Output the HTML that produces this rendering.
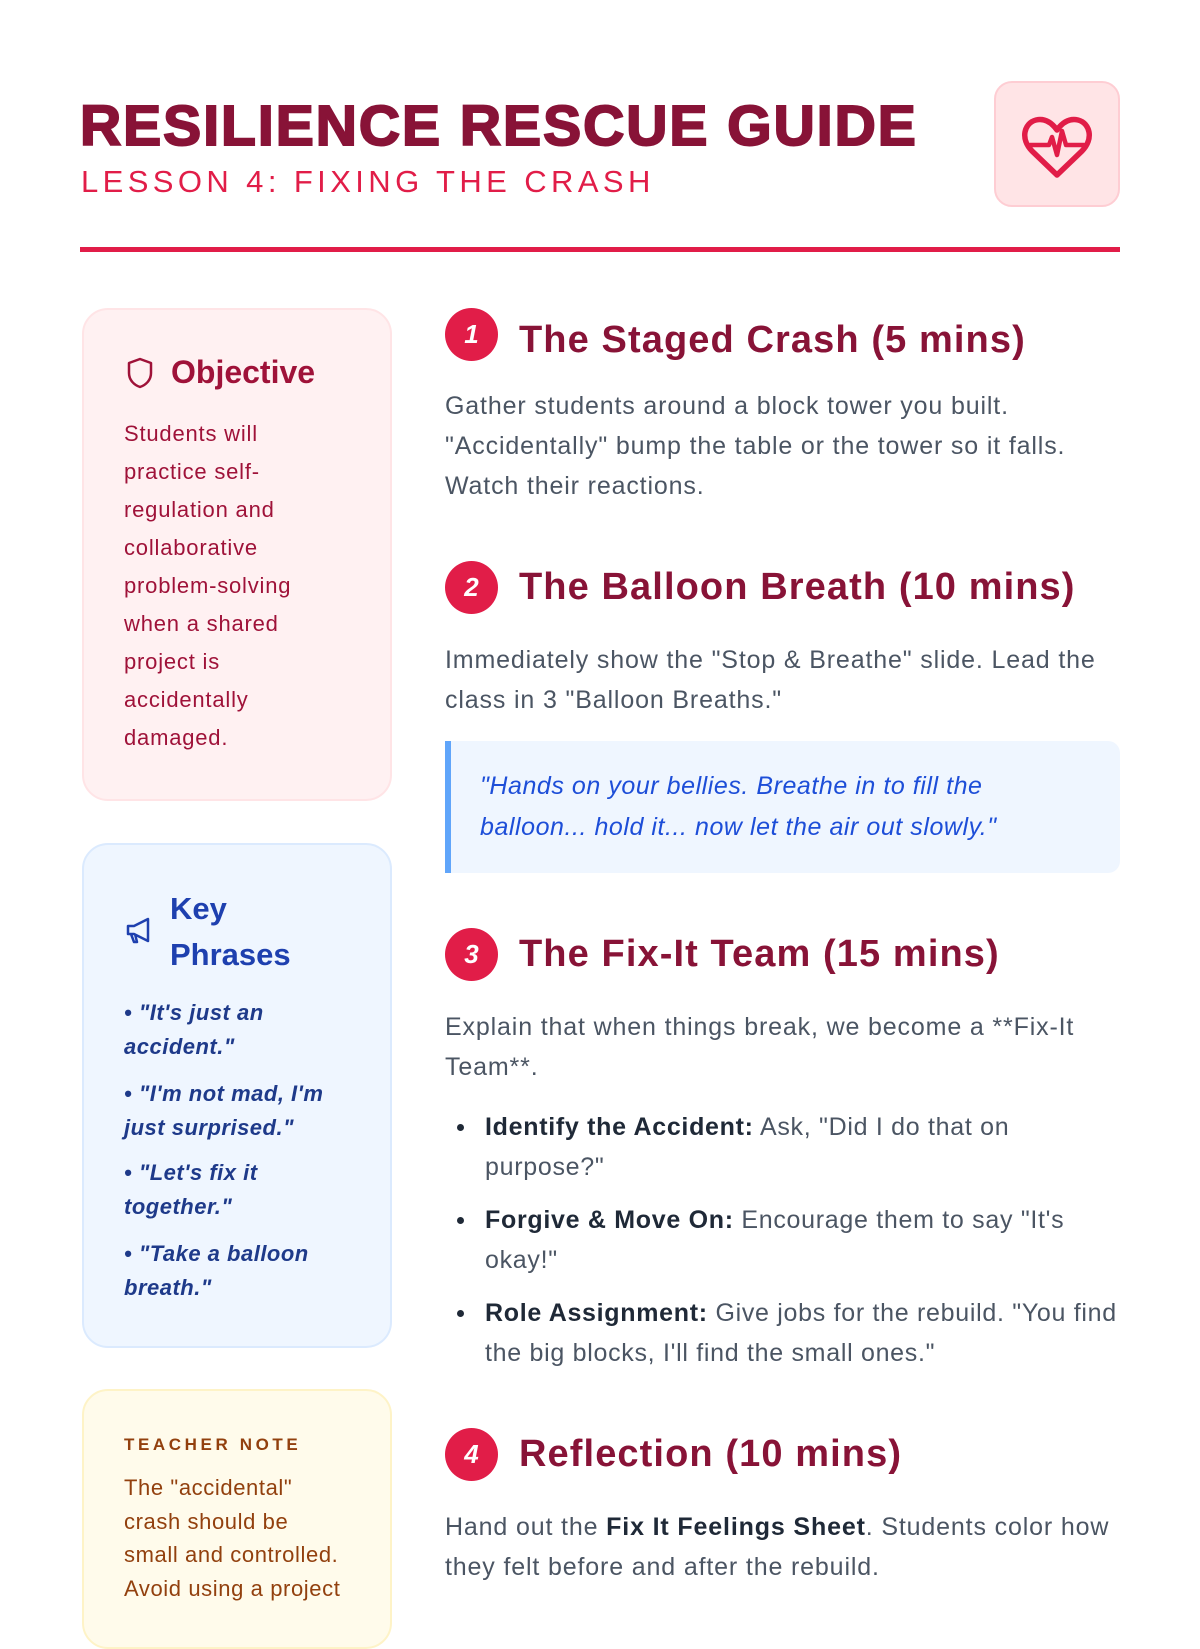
<!DOCTYPE html>
<html><head><meta charset="utf-8">
<style>
*{margin:0;padding:0;box-sizing:border-box}
body{width:1200px;height:1600px;overflow:hidden;background:#fff;font-family:"Liberation Sans",sans-serif;position:relative}
.a{position:absolute;white-space:nowrap}
.title{left:80px;top:93px;font-size:57px;font-weight:900;color:#881337;letter-spacing:2px;line-height:66px;-webkit-text-stroke:2px #881337}
.sub{left:81px;top:164px;font-size:31px;color:#e11d48;letter-spacing:4.4px;line-height:36px}
.heart{left:994px;top:81px;width:126px;height:126px;background:#ffe4e6;border:2px solid #fecdd3;border-radius:18px}
.rule{left:80px;top:247px;width:1040px;height:5px;background:#e11d48}
.card{position:absolute;left:82px;width:310px;border-radius:26px;border:2px solid}
.c1{top:308px;height:493px;background:#fff1f2;border-color:#ffe4e6}
.c2{top:843px;height:505px;background:#eff6ff;border-color:#dbeafe}
.c3{top:1389px;height:260px;background:#fffbeb;border-color:#fef3c7}
.l1{color:#9f1239;font-size:22px;letter-spacing:0.8px;line-height:38px;left:124px;top:415px}
.h{font-size:38px;font-weight:bold;color:#881337;line-height:44px;left:519px;letter-spacing:1.1px}
.num{position:absolute;left:445px;width:53px;height:53px;border-radius:50%;background:#e11d48;color:#fff;font-weight:bold;font-style:italic;font-size:26px;text-align:center;line-height:53px}
.p{font-size:25px;letter-spacing:0.85px;color:#4b5563;line-height:40px;left:445px}
.p b{color:#1f2937}
.kp{left:124px;font-size:22px;letter-spacing:0.5px;font-weight:bold;font-style:italic;color:#1e3a8a;line-height:34px}
.bl{left:485px;font-size:25px;letter-spacing:0.7px;color:#4b5563;line-height:40px}
.bl b{color:#1f2937}
.dot{position:absolute;left:457px;width:7px;height:7px;border-radius:50%;background:#1f2937}
</style></head><body>
<div class="a title">RESILIENCE RESCUE GUIDE</div>
<div class="a sub">LESSON 4: FIXING THE CRASH</div>
<div class="a heart">
<svg width="126" height="126" viewBox="0 0 126 126" style="position:absolute;left:-2px;top:-2px"><path d="M63 94 L38 70 C26 58 30 42 42 39 C51 37 58 42 63 49 C68 42 75 37 84 39 C96 42 100 58 88 70 Z" fill="none" stroke="#e11d48" stroke-width="5.5" stroke-linejoin="round"/><path d="M36 64 H55 L58 56 L63 74 L68 50 L72 64 H90" fill="none" stroke="#e11d48" stroke-width="4.5" stroke-linejoin="round" stroke-linecap="round"/></svg>
</div>
<div class="a rule"></div>

<div class="card c1"></div>
<svg class="a" style="left:126px;top:357px" width="28" height="32" viewBox="0 0 28 32"><path d="M14 2 L25 6 V16 C25 23 20 28 14 30 C8 28 3 23 3 16 V6 Z" fill="none" stroke="#9f1239" stroke-width="2.5" stroke-linejoin="round"/></svg>
<div class="a" style="left:171px;top:352px;font-size:32px;font-weight:bold;color:#9f1239;line-height:40px">Objective</div>
<div class="a l1">Students will<br>practice self-<br>regulation and<br>collaborative<br>problem-solving<br>when a shared<br>project is<br>accidentally<br>damaged.</div>

<div class="card c2"></div>
<svg class="a" style="left:124px;top:916px" width="30" height="30" viewBox="0 0 30 30"><path d="M4 10 H10 L24 3 V25 L10 18 H4 Z M7 18 L10 26 H13 L11 18" fill="none" stroke="#1e40af" stroke-width="2.5" stroke-linejoin="round"/></svg>
<div class="a" style="left:170px;top:886px;font-size:31px;font-weight:bold;color:#1e40af;line-height:46px">Key<br>Phrases</div>
<div class="a kp" style="top:996px">• "It's just an<br>accident."</div>
<div class="a kp" style="top:1077px">• "I'm not mad, I'm<br>just surprised."</div>
<div class="a kp" style="top:1156px">• "Let's fix it<br>together."</div>
<div class="a kp" style="top:1237px">• "Take a balloon<br>breath."</div>

<div class="card c3"></div>
<div class="a" style="left:124px;top:1435px;font-size:17px;font-weight:bold;color:#92400e;letter-spacing:3.6px;line-height:20px">TEACHER NOTE</div>
<div class="a" style="left:124px;top:1471px;font-size:22px;letter-spacing:0.6px;color:#92400e;line-height:33.5px">The "accidental"<br>crash should be<br>small and controlled.<br>Avoid using a project</div>

<div class="num" style="top:308px">1</div>
<div class="a h" style="top:318px">The Staged Crash (5 mins)</div>
<div class="a p" style="top:386px">Gather students around a block tower you built.<br>"Accidentally" bump the table or the tower so it falls.<br>Watch their reactions.</div>

<div class="num" style="top:561px">2</div>
<div class="a h" style="top:565px">The Balloon Breath (10 mins)</div>
<div class="a p" style="top:640px">Immediately show the "Stop &amp; Breathe" slide. Lead the<br>class in 3 "Balloon Breaths."</div>
<div class="a" style="left:445px;top:741px;width:675px;height:132px;background:#eff6ff;border-left:6px solid #60a5fa;border-radius:0 12px 12px 0"></div>
<div class="a" style="left:480px;top:766px;font-size:25px;letter-spacing:0.55px;font-style:italic;color:#1d4ed8;line-height:41px">"Hands on your bellies. Breathe in to fill the<br>balloon... hold it... now let the air out slowly."</div>

<div class="num" style="top:928px">3</div>
<div class="a h" style="top:932px">The Fix-It Team (15 mins)</div>
<div class="a p" style="top:1007px">Explain that when things break, we become a **Fix-It<br>Team**.</div>
<div class="dot" style="top:1124px"></div>
<div class="a bl" style="top:1107px"><b>Identify the Accident:</b> Ask, "Did I do that on<br>purpose?"</div>
<div class="dot" style="top:1217px"></div>
<div class="a bl" style="top:1200px"><b>Forgive &amp; Move On:</b> Encourage them to say "It's<br>okay!"</div>
<div class="dot" style="top:1310px"></div>
<div class="a bl" style="top:1293px"><b>Role Assignment:</b> Give jobs for the rebuild. "You find<br>the big blocks, I'll find the small ones."</div>

<div class="num" style="top:1428px">4</div>
<div class="a h" style="top:1432px">Reflection (10 mins)</div>
<div class="a p" style="top:1507px">Hand out the <b>Fix It Feelings Sheet</b>. Students color how<br>they felt before and after the rebuild.</div>
</body></html>
